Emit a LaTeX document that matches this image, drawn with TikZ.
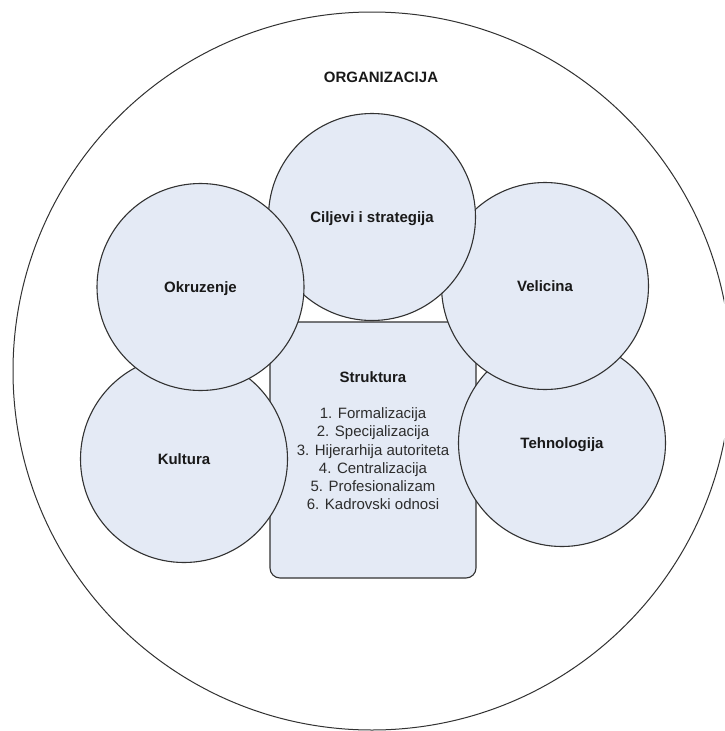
\documentclass[tikz,border=0pt]{standalone}
\usepackage{fontspec}
\setmainfont{Liberation Sans}
\begin{document}
\begin{tikzpicture}[x=1pt,y=-1pt]
\definecolor{panel}{RGB}{228,234,245}
\definecolor{edge}{RGB}{50,50,50}
\definecolor{ink}{RGB}{25,25,25}
\definecolor{listink}{RGB}{45,45,45}
\tikzset{
  factor/.style={circle, draw=edge, line width=1.1pt, fill=panel,
    minimum size=207pt, inner sep=0pt, text height=10.7pt, text depth=0pt,
    font=\fontsize{15}{18}\selectfont\bfseries, text=ink},
  core/.style={rectangle, rounded corners=10pt, draw=edge, line width=1.1pt,
    fill=panel, minimum width=206pt, minimum height=256pt, inner sep=0pt},
  heading/.style={inner sep=0pt, anchor=base, font=\fontsize{15}{18}\selectfont\bfseries, text=ink},
  items/.style={inner sep=0pt, anchor=north, align=center,
    font=\fontsize{15}{18.3}\selectfont, text=listink}
}
\useasboundingbox (0,0) rectangle (724,731);
\clip (0,0) rectangle (724,731);
\fill[white] (0,0) rectangle (724,731);

% the organisation as a whole
\node[circle, draw=edge, line width=1pt, minimum size=718pt, inner sep=0pt] (org) at (372,371) {};
\node[heading] (orgtitle) at (381,82) {ORGANIZACIJA};

% structure in the middle
\node[core] (struktura) at (373,450) {};

% surrounding factors, back to front
\node[factor] (kultura) at (184,459) {Kultura};
\node[factor] (tehnologija) at (562,443) {Tehnologija};
\node[factor] (velicina) at (545,286) {Velicina};
\node[factor] (ciljevi) at (372,217) {Ciljevi i strategija};
\node[factor] (okruzenje) at (200.5,287) {Okruzenje};

% contents of the structure box
\node[heading] (struktitle) at (373,382.1) {Struktura};
\node[items] (struklist) at (373,407.4) {1. Formalizacija\\2. Specijalizacija\\3. Hijerarhija autoriteta\\4. Centralizacija\\5. Profesionalizam\\6. Kadrovski odnosi};
\end{tikzpicture}
\end{document}
